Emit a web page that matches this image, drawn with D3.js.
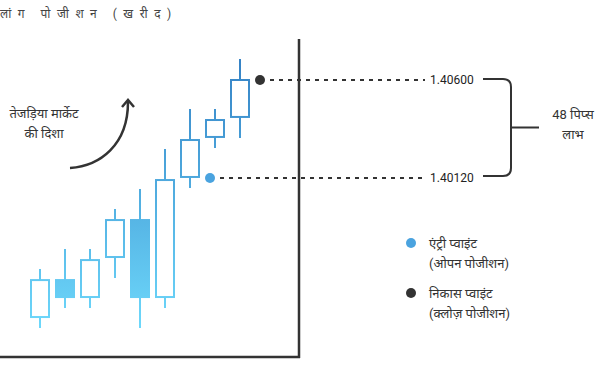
<!DOCTYPE html>
<html>
<head>
<meta charset="utf-8">
<script src="https://cdn.jsdelivr.net/npm/d3@7"></script>
<style>
    body { margin: 0; background: #fff; }
    svg { display: block; font-family: Roboto, "Noto Sans", sans-serif; }
</style>
</head>
<body>
<div id="chart"><svg></svg></div>
<script>

var width = 610,
    height = 370;

// Candles, oldest first: open, high, low, close
var opens  = [1.39439, 1.39625, 1.39537, 1.39733, 1.39919, 1.39537, 1.40125, 1.40321, 1.40419];
var highs  = [1.39674, 1.39772, 1.39772, 1.39968, 1.40066, 1.40262, 1.40458, 1.40458, 1.40703];
var lows   = [1.39385, 1.39483, 1.39483, 1.39630, 1.39385, 1.39483, 1.40071, 1.40267, 1.40316];
var closes = [1.39620, 1.39532, 1.39718, 1.39914, 1.39532, 1.40110, 1.40306, 1.40404, 1.40600];

var entryPrice = 1.40120,
    exitPrice = 1.40600;
var entryCandle = 6,
    exitCandle = 8;
var pipsGain = 48;

var title = "लांग पोजीशन (खरीद)";
var trendLabel = ["तेजड़िया मार्केट", "की दिशा"];
var gainLabel = [pipsGain + " पिप्स", "लाभ"];
var legendLabels = [
    ["एंट्री प्वाइंट", "(ओपन पोजीशन)"],
    ["निकास प्वाइंट", "(क्लोज़ पोजीशन)"]
];

var candles = opens.map((o, i) => ({
    index: i,
    open: o,
    high: highs[i],
    low: lows[i],
    close: closes[i]
}));

var svg = d3.select("#chart svg")
    .attr("width", width)
    .attr("height", height);

var x = d3.scaleLinear()
    .domain([0, 8])
    .range([40, 240]);

var y = d3.scaleLinear()
    .domain([entryPrice, exitPrice])
    .range([178, 80]);

var bodyWidth = 20;
var dark = "#333";

var defs = svg.append("defs");
var grad = defs.append("linearGradient")
    .attr("id", "candle-grad")
    .attr("gradientUnits", "userSpaceOnUse")
    .attr("x1", 0).attr("x2", 0)
    .attr("y1", y(d3.max(highs)))
    .attr("y2", y(d3.min(lows)));
grad.append("stop").attr("offset", "0%").attr("stop-color", "#3582c5");
grad.append("stop").attr("offset", "100%").attr("stop-color", "#6dd8fb");

// Title
svg.append("text")
    .attr("x", 0)
    .attr("y", 18)
    .attr("font-size", 12)
    .attr("letter-spacing", "6.5px")
    .attr("fill", "#444")
    .text(title);

// Frame
svg.append("line")
    .attr("x1", 299).attr("x2", 299)
    .attr("y1", 39).attr("y2", 358)
    .attr("stroke", dark)
    .attr("stroke-width", 2.5);
svg.append("line")
    .attr("x1", 0).attr("x2", 300)
    .attr("y1", 357).attr("y2", 357)
    .attr("stroke", dark)
    .attr("stroke-width", 2.5);

// Candles
var candle = svg.append("g")
    .attr("class", "candles")
    .selectAll("g")
    .data(candles)
    .enter().append("g");

candle.append("line")
    .attr("x1", (d) => x(d.index))
    .attr("x2", (d) => x(d.index))
    .attr("y1", (d) => y(d.high))
    .attr("y2", (d) => y(d.low))
    .attr("stroke", "url(#candle-grad)")
    .attr("stroke-width", 2);

candle.append("rect")
    .attr("x", function(d) {
        return d.close >= d.open ? x(d.index) - bodyWidth / 2 + 1 : x(d.index) - bodyWidth / 2;
    })
    .attr("width", (d) => d.close >= d.open ? bodyWidth - 2 : bodyWidth)
    .attr("y", (d) => y(Math.max(d.open, d.close)))
    .attr("height", (d) => Math.abs(y(d.open) - y(d.close)))
    .attr("fill", (d) => d.close >= d.open ? "#fff" : "url(#candle-grad)")
    .attr("stroke", (d) => d.close >= d.open ? "url(#candle-grad)" : "none")
    .attr("stroke-width", 2);

// Entry / exit markers with dashed guides
var marks = [
    { price: entryPrice, candle: entryCandle, color: "#4aa3df" },
    { price: exitPrice, candle: exitCandle, color: dark }
];
var step = x(1) - x(0);

svg.selectAll("line.guide")
    .data(marks)
    .enter().append("line")
        .classed("guide", true)
        .attr("x1", (d) => x(d.candle) + step * 0.8 + 10)
        .attr("x2", 425)
        .attr("y1", (d) => y(d.price))
        .attr("y2", (d) => y(d.price))
        .attr("stroke", dark)
        .attr("stroke-width", 2)
        .attr("stroke-dasharray", "4,5");

svg.selectAll("circle.mark")
    .data(marks)
    .enter().append("circle")
        .classed("mark", true)
        .attr("cx", (d) => x(d.candle) + step * 0.8)
        .attr("cy", (d) => y(d.price))
        .attr("r", 5)
        .attr("fill", (d) => d.color);

svg.selectAll("text.price")
    .data(marks)
    .enter().append("text")
        .classed("price", true)
        .attr("x", 430)
        .attr("y", (d) => y(d.price))
        .attr("dy", "0.35em")
        .attr("font-size", 12)
        .attr("fill", "#222")
        .text((d) => d.price.toFixed(5));

// Bracket
var bTop = y(exitPrice) - 1,
    bBot = y(entryPrice) - 2,
    bx = 511,
    br = 8;
svg.append("path")
    .attr("d", "M483," + bTop + " H" + (bx - br) + " Q" + bx + "," + bTop + " " + bx + "," + (bTop + br) +
        " V" + (bBot - br) + " Q" + bx + "," + bBot + " " + (bx - br) + "," + bBot + " H483" +
        " M" + bx + "," + ((bTop + bBot) / 2) + " H539")
    .attr("fill", "none")
    .attr("stroke", dark)
    .attr("stroke-width", 2);

svg.append("text")
    .attr("x", 573)
    .attr("y", 119)
    .attr("text-anchor", "middle")
    .attr("font-size", 13)
    .attr("fill", "#333")
    .selectAll("tspan")
    .data(gainLabel)
    .enter().append("tspan")
        .attr("x", 573)
        .attr("dy", (d, i) => i ? 20 : 0)
        .text((d) => d);

// Trend label and arrow
svg.append("text")
    .attr("x", 44)
    .attr("y", 118)
    .attr("text-anchor", "middle")
    .attr("font-size", 13)
    .attr("fill", "#333")
    .selectAll("tspan")
    .data(trendLabel)
    .enter().append("tspan")
        .attr("x", 44)
        .attr("dy", (d, i) => i ? 20 : 0)
        .text((d) => d);

svg.append("path")
    .attr("d", "M70,168 C100,166 128,145 128,102")
    .attr("fill", "none")
    .attr("stroke", dark)
    .attr("stroke-width", 2.5);
svg.append("path")
    .attr("d", "M122,107 L128,100 L134,107")
    .attr("fill", "none")
    .attr("stroke", dark)
    .attr("stroke-width", 2.5);

// Legend
var legend = svg.append("g")
    .selectAll("g")
    .data(marks)
    .enter().append("g")
        .attr("transform", (d, i) => "translate(411," + (243 + i * 50) + ")");

legend.append("circle")
    .attr("r", 5)
    .attr("fill", (d) => d.color);

legend.append("text")
    .attr("font-size", 13)
    .attr("fill", "#333")
    .selectAll("tspan")
    .data((d, i) => legendLabels[i])
    .enter().append("tspan")
        .attr("x", 18)
        .attr("y", (d, i) => 5 + i * 20)
        .text((d) => d);

</script>
</body>
</html>
